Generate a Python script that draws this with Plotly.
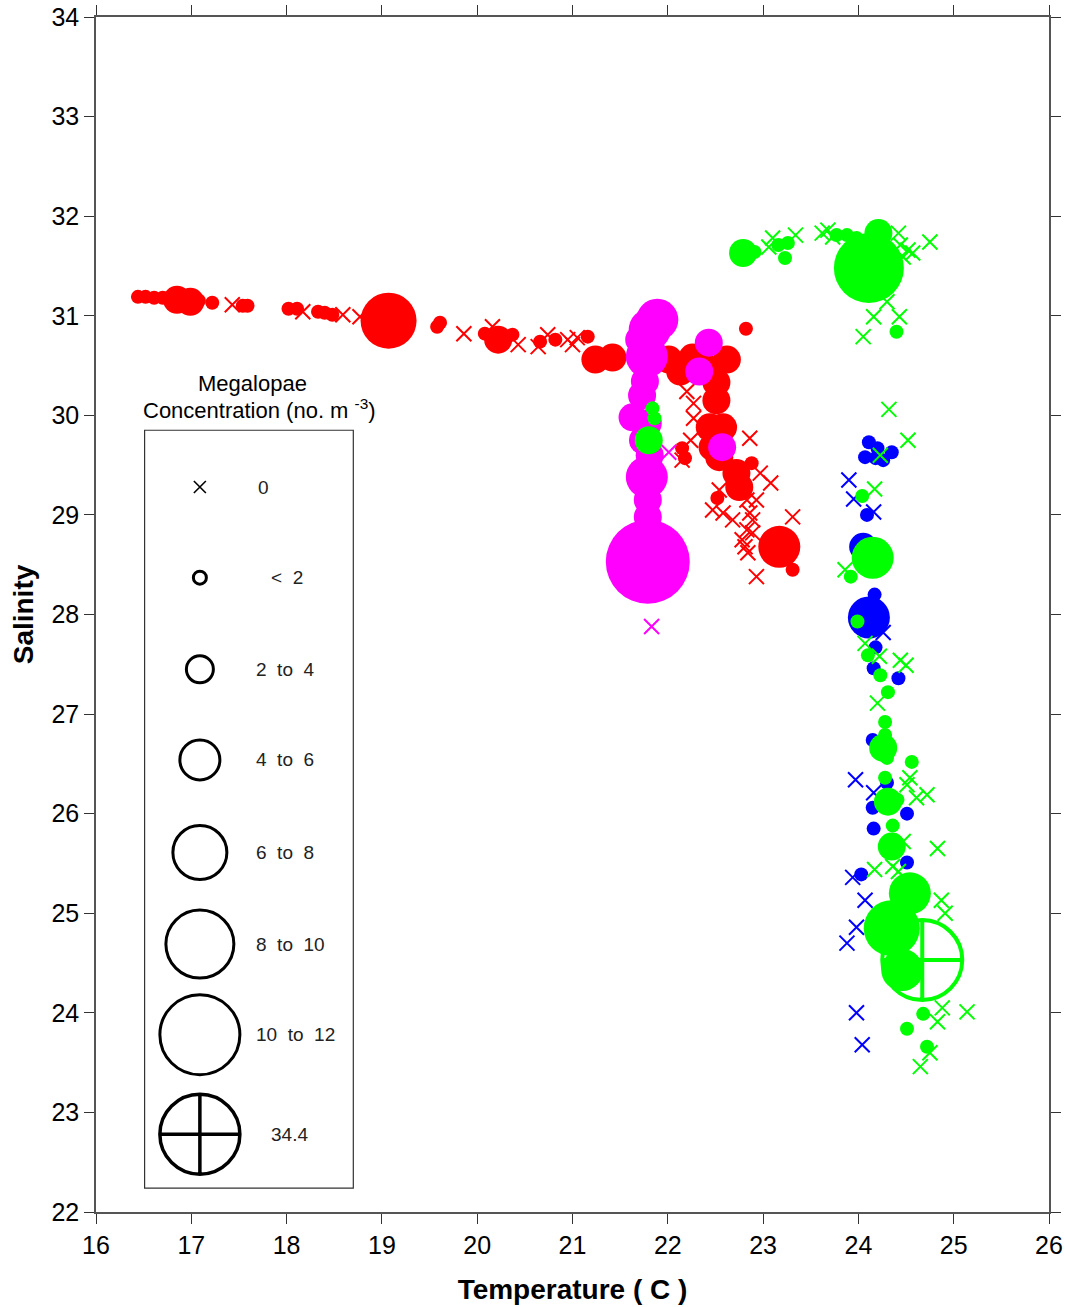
import plotly.graph_objects as go

# ---------------- data (temperature C, salinity, megalopae concentration no. m-3) ----------------
red_temp = [16.44, 16.52, 16.61, 16.70, 16.78, 16.85, 16.99, 17.08, 17.22, 17.54, 17.59, 18.02, 18.11,
            18.33, 18.40, 18.48, 19.07, 19.58, 19.61, 20.08, 20.22, 20.37, 20.66, 20.82, 21.16, 21.24,
            21.42, 22.01, 22.13, 22.26, 22.39, 22.62, 22.82, 22.51, 22.51, 22.44, 22.58, 22.47, 22.54,
            22.15, 22.18, 22.72, 22.75, 22.88, 22.52, 23.17, 23.31,
            17.43, 18.17, 18.59, 18.77, 19.86, 20.16, 20.43, 20.64, 20.74, 20.95, 21.00, 21.05, 22.20,
            22.27, 22.27, 22.24, 22.15, 22.86, 22.97, 23.08, 22.83, 22.93, 22.54, 22.47, 22.58, 22.68,
            22.86, 22.89, 23.31, 22.83, 22.89, 22.78, 22.81, 22.84, 22.93]
red_sal = [31.19, 31.19, 31.18, 31.18, 31.17, 31.16, 31.14, 31.15, 31.13, 31.10, 31.10, 31.07, 31.07,
           31.04, 31.03, 31.01, 30.95, 30.89, 30.93, 30.82, 30.76, 30.81, 30.74, 30.76, 30.79, 30.56,
           30.58, 30.56, 30.44, 30.58, 30.48, 30.56, 30.87, 30.33, 30.15, 29.88, 29.88, 29.68, 29.58,
           29.67, 29.57, 29.42, 29.28, 29.52, 29.17, 28.68, 28.45,
           31.11, 31.04, 31.01, 30.99, 30.82, 30.89, 30.71, 30.69, 30.81, 30.76, 30.71, 30.78, 30.24,
           30.12, 29.97, 29.75, 29.55, 29.77, 29.42, 29.32, 29.15, 29.15, 29.25, 29.05, 29.02, 28.95,
           29.02, 28.95, 28.98, 28.85, 28.82, 28.75, 28.68, 28.62, 28.38]
red_conc = [1, 1, 1, 1, 1, 3, 3, 1, 1, 1, 1, 1, 1,
            1, 1, 1, 7, 1, 1, 1, 3, 1, 1, 1, 1, 3,
            3, 3, 3, 3, 3, 3, 1, 3, 3, 3, 3, 3, 3,
            1, 1, 3, 3, 1, 1, 5, 1,
            0, 0, 0, 0, 0, 0, 0, 0, 0, 0, 0, 0, 0,
            0, 0, 0, 0, 0, 0, 0, 0, 0, 0, 0, 0, 0,
            0, 0, 0, 0, 0, 0, 0, 0, 0]

magenta_temp = [21.89, 21.81, 21.70, 21.78, 21.76, 21.73, 21.63, 21.79, 21.74, 21.81, 21.78, 21.79,
                21.79, 21.81, 21.79, 22.43, 22.33, 22.57, 21.83, 22.01]
magenta_sal = [30.96, 30.86, 30.76, 30.59, 30.34, 30.20, 29.98, 29.92, 29.75, 29.60, 29.38, 29.15,
               28.98, 28.85, 28.53, 30.73, 30.44, 29.68, 27.88, 29.63]
magenta_conc = [5, 5, 3, 5, 3, 3, 3, 3, 3, 3, 5, 3,
                3, 3, 11, 3, 3, 3, 0, 0]

blue_temp = [24.11, 24.20, 24.07, 24.18, 24.26, 24.35, 24.09, 24.05, 24.17, 24.11, 24.18, 24.16,
             24.42, 24.15, 24.30, 24.15, 24.51, 24.16, 24.51, 24.03,
             23.90, 23.95, 24.16, 24.26, 23.97, 24.16, 23.94, 24.07, 23.98, 23.88, 23.98, 24.04]
blue_sal = [29.73, 29.67, 29.58, 29.57, 29.55, 29.63, 29.00, 28.68, 28.20, 27.97, 27.67, 27.46,
            27.36, 26.74, 26.31, 26.06, 26.00, 25.85, 25.51, 25.39,
            29.35, 29.16, 29.03, 27.82, 26.34, 26.21, 25.36, 25.13, 24.86, 24.70, 24.00, 23.68]
blue_conc = [1, 1, 1, 1, 1, 1, 1, 3, 1, 5, 1, 1,
             1, 1, 1, 1, 1, 1, 1, 1,
             0, 0, 0, 0, 0, 0, 0, 0, 0, 0, 0, 0]

green_temp = [24.67,
              21.84, 21.86, 21.80, 22.79, 22.91, 23.16, 23.26, 23.23, 23.77, 23.88, 23.98, 24.11,
              24.21, 24.40, 24.04, 24.15, 23.92, 23.99, 24.10, 24.23, 24.31, 24.28, 24.28, 24.26,
              24.30, 24.56, 24.28, 24.31, 24.41, 24.36, 24.35, 24.54, 24.35, 24.46, 24.68, 24.51, 24.72,
              23.10, 23.06, 23.34, 23.62, 23.68, 23.73, 24.42, 24.44, 24.52, 24.57, 24.47, 24.75,
              24.30, 24.16, 24.43, 24.05, 24.32, 24.23, 24.52, 24.17, 23.86, 24.07, 24.22, 24.44,
              24.50, 24.20, 24.54, 24.51, 24.61, 24.72, 24.47, 24.83, 24.17, 24.36, 24.42, 24.87,
              24.91, 24.88, 24.83, 25.14, 24.75, 24.65]
green_sal = [24.53,
             30.07, 29.97, 29.75, 31.63, 31.64, 31.71, 31.73, 31.58, 31.81, 31.81, 31.78, 31.48,
             31.83, 30.84, 29.19, 28.57, 28.38, 27.93, 27.59, 27.39, 27.22, 26.92, 26.79, 26.66,
             26.56, 26.52, 26.36, 26.12, 26.14, 25.88, 25.67, 25.20, 24.85, 24.43, 23.99, 23.84, 23.66,
             31.78, 31.69, 31.81, 31.83, 31.86, 31.79, 31.83, 31.71, 31.66, 31.63, 31.59, 31.74,
             31.14, 30.99, 30.99, 30.79, 30.06, 29.60, 29.75, 29.26, 28.45, 27.71, 27.58, 27.54,
             27.49, 27.11, 26.36, 26.29, 26.16, 26.19, 25.72, 25.65, 25.44, 25.47, 25.42, 25.13,
             25.00, 24.05, 23.91, 24.01, 23.60, 23.46]
green_conc = [34.4,
              1, 1, 3, 3, 1, 1, 1, 1, 1, 1, 1, 9,
              3, 1, 1, 5, 1, 1, 1, 1, 1, 1, 1, 3,
              1, 1, 1, 3, 1, 1, 3, 5, 7, 5, 1, 1, 1,
              0, 0, 0, 0, 0, 0, 0, 0, 0, 0, 0, 0,
              0, 0, 0, 0, 0, 0, 0, 0, 0, 0, 0, 0,
              0, 0, 0, 0, 0, 0, 0, 0, 0, 0, 0, 0,
              0, 0, 0, 0, 0, 0]

legend_labels = ["0", "<  2", "2  to  4", "4  to  6", "6  to  8", "8  to  10", "10  to  12", "34.4"]
bin_edges = [2, 4, 6, 8, 10, 12]

groups = [
    ("red", "#ff0000", red_temp, red_sal, red_conc),
    ("magenta", "#ff00ff", magenta_temp, magenta_sal, magenta_conc),
    ("blue", "#0000ff", blue_temp, blue_sal, blue_conc),
    ("green", "#00ff00", green_temp, green_sal, green_conc),
]

BIN_SIZES = [14, 28, 42, 56, 70, 84]


def bin_size(c):
    for i, edge in enumerate(bin_edges):
        if c < edge:
            return BIN_SIZES[i]
    return BIN_SIZES[-1]


fig = go.Figure()

for name, col, T, S, C in groups:
    big = [i for i, c in enumerate(C) if c > bin_edges[-1]]
    pos = [i for i, c in enumerate(C) if 0 < c <= bin_edges[-1]]
    zero = [i for i, c in enumerate(C) if c == 0]
    if big:
        fig.add_trace(go.Scatter(
            x=[T[i] for i in big], y=[S[i] for i in big], mode="markers",
            marker=dict(symbol="circle-cross-open", size=80, color=col, opacity=1,
                        line=dict(color=col, width=4)),
            showlegend=False, hoverinfo="skip"))
    fig.add_trace(go.Scatter(
        x=[T[i] for i in pos], y=[S[i] for i in pos], mode="markers",
        marker=dict(symbol="circle", size=[bin_size(C[i]) for i in pos], color=col, opacity=1,
                    line=dict(width=0)),
        showlegend=False, hoverinfo="skip"))
    fig.add_trace(go.Scatter(
        x=[T[i] for i in zero], y=[S[i] for i in zero], mode="markers",
        marker=dict(symbol="x-thin", size=15, color=col, opacity=1,
                    line=dict(color=col, width=2)),
        showlegend=False, hoverinfo="skip"))

# ---------------- size legend (drawn inside the plot) ----------------
leg_x = 17.09
leg_rows = [29.28, 28.37, 27.45, 26.54, 25.61, 24.69, 23.78, 22.78]
leg_text_x = [17.68, 17.82, 17.66, 17.66, 17.66, 17.66, 17.66, 17.82]

fig.add_trace(go.Scatter(
    x=[leg_x], y=[leg_rows[0]], mode="markers",
    marker=dict(symbol="x-thin", size=12, color="black", opacity=1,
                line=dict(color="black", width=1.6)),
    showlegend=False, hoverinfo="skip"))
fig.add_trace(go.Scatter(
    x=[leg_x] * 6, y=leg_rows[1:7], mode="markers",
    marker=dict(symbol="circle-open", size=[13, 27, 40, 54, 68, 80], color="black", opacity=1,
                line=dict(color="black", width=3)),
    showlegend=False, hoverinfo="skip"))
fig.add_trace(go.Scatter(
    x=[leg_x], y=[leg_rows[7]], mode="markers",
    marker=dict(symbol="circle-cross-open", size=80, color="black", opacity=1,
                line=dict(color="black", width=3.5)),
    showlegend=False, hoverinfo="skip"))

for lab, yy, xx in zip(legend_labels, leg_rows, leg_text_x):
    fig.add_annotation(x=xx, y=yy, xref="x", yref="y", text=lab, showarrow=False,
                       xanchor="left", yanchor="middle",
                       font=dict(family="Liberation Sans", size=19, color="#222"))

fig.add_shape(type="rect", xref="x", yref="y", x0=16.51, x1=18.70, y0=22.24, y1=29.85,
              line=dict(color="#333", width=1.2), fillcolor="rgba(0,0,0,0)")
fig.add_annotation(x=17.64, y=30.32, xref="x", yref="y", text="Megalopae", showarrow=False,
                   xanchor="center", yanchor="middle",
                   font=dict(family="Liberation Sans", size=22, color="black"))
fig.add_annotation(x=17.72, y=30.06, xref="x", yref="y",
                   text="Concentration (no. m <sup>-3</sup>)", showarrow=False,
                   xanchor="center", yanchor="middle",
                   font=dict(family="Liberation Sans", size=22, color="black"))

axis_common = dict(showline=True, linecolor="#555", linewidth=1.5, mirror="ticks",
                   ticks="outside", ticklen=10, tickwidth=1, tickcolor="#333",
                   showgrid=False, zeroline=False, dtick=1, automargin=False,
                   ticklabeloverflow="allow",
                   tickfont=dict(family="Liberation Sans", size=25, color="black"))

fig.update_layout(
    width=1070, height=1307,
    margin=dict(l=96, r=21, t=17, b=95),
    paper_bgcolor="white", plot_bgcolor="white",
    xaxis=dict(range=[16, 26], tick0=16,
               title=dict(text="<b>Temperature ( C )</b>", standoff=22,
                          font=dict(family="Liberation Sans", size=28, color="black")),
               **axis_common),
    yaxis=dict(range=[22, 34], tick0=22,
               title=dict(text="<b>Salinity</b>", standoff=10,
                          font=dict(family="Liberation Sans", size=28, color="black")),
               **axis_common),
)

fig.write_html("out.html")
